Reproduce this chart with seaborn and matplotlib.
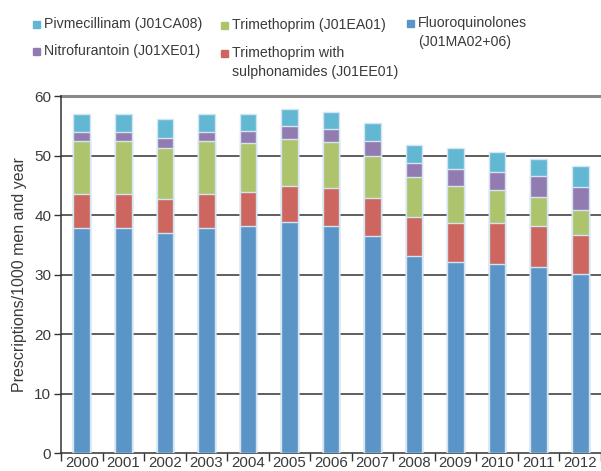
import numpy as np
import pandas as pd
import matplotlib
matplotlib.use("Agg")
import matplotlib.pyplot as plt
from matplotlib.patches import Rectangle
import seaborn as sns

years = ["2000", "2001", "2002", "2003", "2004", "2005", "2006",
         "2007", "2008", "2009", "2010", "2011", "2012"]
fluoro = [37.9, 37.9, 37.0, 37.9, 38.2, 38.8, 38.2, 36.5, 33.1, 32.1, 31.8, 31.2, 30.1]
trim_sulph = [5.7, 5.7, 5.7, 5.7, 5.7, 6.1, 6.4, 6.3, 6.6, 6.6, 6.9, 7.0, 6.6]
trim = [8.9, 8.9, 8.5, 8.9, 8.2, 7.9, 7.6, 7.2, 6.7, 6.2, 5.5, 4.9, 4.2]
nitro = [1.4, 1.4, 1.8, 1.4, 2.1, 2.1, 2.3, 2.4, 2.4, 2.9, 3.1, 3.5, 3.9]
pivme = [3.1, 3.1, 3.1, 3.1, 2.8, 3.0, 2.8, 3.1, 3.0, 3.4, 3.3, 2.8, 3.4]

# bottom to top
series = ["Fluoroquinolones", "Trimethoprim with sulph", "Trimethoprim",
          "Nitrofurantoin", "Pivmecillinam"]
colors = ["#5b95c7", "#cd665e", "#aec46c", "#917bb0", "#62b7d3"]

df = pd.DataFrame({"year": years, series[0]: fluoro, series[1]: trim_sulph,
                   series[2]: trim, series[3]: nitro, series[4]: pivme})
cum = df[series].cumsum(axis=1)

plt.rcParams['font.family'] = ['Liberation Sans', 'DejaVu Sans']
txt = "#3a3a3a"

fig = plt.figure(figsize=(6.01, 4.71), dpi=100)
ax = fig.add_axes([0.1015, 0.038, 0.8985, 0.758])

# layered cumulative bars, tallest first
for s, c in zip(series[::-1], colors[::-1]):
    sns.barplot(x=df["year"], y=cum[s], color=c, width=0.4, ax=ax,
                edgecolor="#d4e4f1", linewidth=1, saturation=1, zorder=3)

ax.set_ylim(0, 60)
ax.set_xlim(-0.5, 12.5)
ax.set_yticks(range(0, 61, 10))
for v in range(10, 60, 10):
    ax.axhline(v, color="#333333", lw=1.1, zorder=1)
ax.axhline(60, color="#8a8a8a", lw=2.2, zorder=1, clip_on=False)

for sp in ["top", "right"]:
    ax.spines[sp].set_visible(False)
for sp in ["left", "bottom"]:
    ax.spines[sp].set_color("#333333")
    ax.spines[sp].set_linewidth(1.1)

ax.tick_params(axis="y", length=5, width=1, color="#333333", labelsize=11,
               labelcolor=txt, pad=2)
ax.tick_params(axis="x", which="major", length=0, labelsize=10.8,
               labelcolor=txt, pad=2)
ax.set_xticks(np.arange(-0.5, 13, 1), minor=True)
ax.tick_params(axis="x", which="minor", length=6, width=1, color="#333333")
ax.set_xlabel("")
ax.set_ylabel("Prescriptions/1000 men and year", fontsize=11.5, color=txt, labelpad=5)

# legend drawn by hand to match layout
W, H = 601, 471
def leg(xp, yc, lines, color):
    fig.patches.append(Rectangle((xp / W, 1 - (yc + 3.5) / H), 7 / W, 7 / H,
                                 transform=fig.transFigure, color=color))
    for i, line in enumerate(lines):
        fig.text((xp + 11) / W, 1 - (yc + 19 * i) / H, line, fontsize=10.2,
                 color=txt, va="center")

leg(33, 24, ["Pivmecillinam (J01CA08)"], colors[4])
leg(33, 51, ["Nitrofurantoin (J01XE01)"], colors[3])
leg(221, 25, ["Trimethoprim (J01EA01)"], colors[2])
leg(221, 53, ["Trimethoprim with", "sulphonamides (J01EE01)"], colors[1])
leg(407, 23, ["Fluoroquinolones", "(J01MA02+06)"], colors[0])

fig.savefig("out.png", dpi=100)
